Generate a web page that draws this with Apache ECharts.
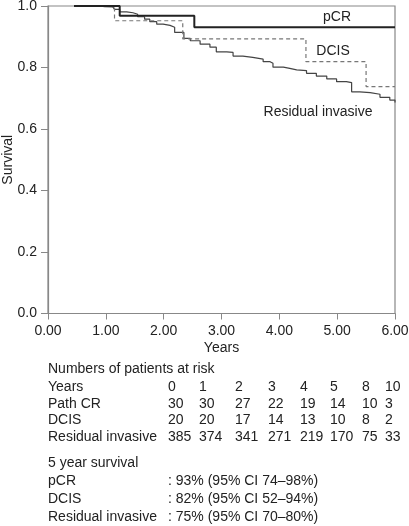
<!DOCTYPE html>
<html><head><meta charset="utf-8">
<style>html,body{margin:0;padding:0;background:#fff}#c{width:409px;height:526px}</style>
<script src="https://cdn.jsdelivr.net/npm/echarts@6/dist/echarts.min.js"></script>
</head><body><div id="c"></div>
<script>
const pcr = [[0.45,1.0],[1.24,0.968],[2.53,0.931],[6.0,0.931]];
const dcis = [[0.45,1.0],[1.15,0.952],[2.33,0.893],[4.46,0.819],[5.50,0.738],[6.0,0.738]];
const residual = [[0.45,1.0],[0.89,0.998],[0.98,0.997],[1.12,0.994],[1.15,0.989],[1.24,0.981],[1.36,0.978],[1.47,0.973],[1.55,0.965],[1.67,0.957],[1.76,0.949],[1.88,0.941],[1.99,0.937],[2.11,0.931],[2.19,0.914],[2.35,0.895],[2.46,0.887],[2.63,0.876],[2.80,0.866],[2.91,0.851],[3.09,0.849],[3.20,0.837],[3.37,0.833],[3.54,0.827],[3.72,0.819],[3.84,0.814],[3.89,0.801],[4.07,0.797],[4.18,0.792],[4.30,0.790],[4.47,0.781],[4.64,0.772],[4.82,0.763],[4.99,0.754],[5.16,0.751],[5.25,0.721],[5.39,0.718],[5.57,0.713],[5.74,0.703],[5.91,0.694],[6.00,0.686]];
const riskYears = ['0','1','2','3','4','5','8','10'];
const riskPathCR = ['30','30','27','22','19','14','10','3'];
const riskDCIS = ['20','20','17','14','13','10','8','2'];
const riskResidual = ['385','374','341','271','219','170','75','33'];
const survLabels = ['pCR','DCIS','Residual invasive'];
const survText = [': 93% (95% CI 74\u201398%)',': 82% (95% CI 52\u201394%)',': 75% (95% CI 70\u201380%)'];

const FONT = 'Liberation Sans, Arial, sans-serif';
const FS = 14;
const TC = '#222';
const chart = echarts.init(document.getElementById('c'), null, {renderer:'canvas'});
const g = [];
function txt(x,y,s,align){ g.push({type:'text',x:x,y:y,style:{text:s,fill:TC,font:FS+'px '+FONT,textVerticalAlign:'middle',textAlign:align||'left'}}); }
const colX = [168,199,235,268,300,330,362,385];
txt(48,369,'Numbers of patients at risk');
const rows = [['Years',riskYears,387],['Path CR',riskPathCR,404],['DCIS',riskDCIS,420],['Residual invasive',riskResidual,437]];
rows.forEach(r=>{ txt(48,r[2],r[0]); r[1].forEach((v,i)=>txt(colX[i],r[2],v)); });
txt(48,463,'5 year survival');
[481,499,517].forEach((y,i)=>{ txt(48,y,survLabels[i]); txt(168,y,survText[i]); });
// curve labels
txt(337,17,'pCR','center');
txt(333,51,'DCIS','center');
txt(318,112,'Residual invasive','center');

chart.setOption({
  animation:false,
  backgroundColor:'#fff',
  grid:{left:48,right:14,top:6,bottom:212.5,show:true,borderColor:'#888',borderWidth:1.2,containLabel:false,outerBoundsMode:'none'},
  xAxis:{type:'value',min:0,max:6,interval:1,
    name:'Years',nameLocation:'middle',nameGap:28,nameMoveOverlap:false,nameTextStyle:{color:TC,fontSize:FS,fontFamily:FONT},
    axisLine:{show:true,lineStyle:{color:'#888',width:1.2}},
    axisTick:{show:true,inside:false,length:6,lineStyle:{color:'#888'}},
    axisLabel:{color:TC,fontSize:FS,fontFamily:FONT,margin:11,formatter:v=>v.toFixed(2)},
    splitLine:{show:false}},
  yAxis:{type:'value',min:0,max:1,interval:0.2,
    name:'Survival',nameLocation:'middle',nameGap:33,nameRotate:90,nameMoveOverlap:false,nameTextStyle:{color:TC,fontSize:FS,fontFamily:FONT},
    axisLine:{show:true,lineStyle:{color:'#888',width:1.2}},
    axisTick:{show:true,inside:false,length:7,lineStyle:{color:'#888'}},
    axisLabel:{color:TC,fontSize:FS,fontFamily:FONT,margin:11,formatter:v=>v.toFixed(1)},
    splitLine:{show:false}},
  series:[
    {type:'line',step:'end',data:residual,showSymbol:false,lineStyle:{color:'#444',width:1.2},z:2},
    {type:'line',step:'end',data:dcis,showSymbol:false,lineStyle:{color:'#777',width:1.2,type:[4,3]},z:3},
    {type:'line',step:'end',data:pcr,showSymbol:false,lineStyle:{color:'#222',width:2},z:4}
  ],
  graphic:g
});
</script></body></html>
